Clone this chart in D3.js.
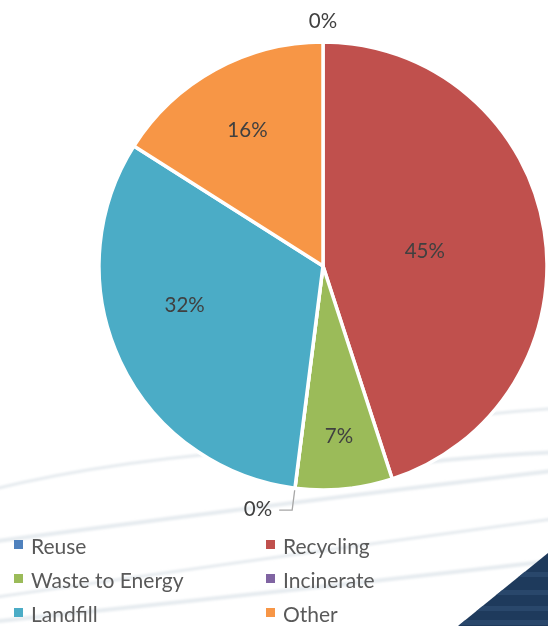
<!DOCTYPE html>
<html lang="en">
<head>
<meta charset="UTF-8">
<title>Waste Pie</title>
<script src="https://d3js.org/d3.v7.min.js"></script>
<style>
    body { margin: 0; background: #fff; }
    svg { display: block; }
    .lbl { font-family: Lato, "Open Sans", sans-serif; font-size: 20.5px; fill: #404040; }
    .legend text { font-family: Lato, "Open Sans", sans-serif; font-size: 21px; fill: #595959; }
</style>
</head>
<body>
<div id="chart"></div>
<script>
// data
const categories = ["Reuse", "Recycling", "Waste to Energy", "Incinerate", "Landfill", "Other"];
const values = [0, 45, 7, 0, 32, 16];
const colors = ["#4f81bd", "#c0504d", "#9bbb59", "#8064a2", "#4bacc6", "#f79646"];

// label distance from centre (fraction of radius) and angle nudge (deg), mimics Excel "best fit"
const labelFrac = { "Recycling": 0.46, "Waste to Energy": 0.76, "Landfill": 0.64, "Other": 0.70 };
const labelNudge = { "Landfill": 10 };

const width = 548, height = 626;
const cx = 323, cy = 266, r = 224;

const svg = d3.select("#chart").append("svg")
    .attr("width", width)
    .attr("height", height);

// faint background swooshes
svg.append("filter").attr("id", "soft")
    .append("feGaussianBlur").attr("stdDeviation", 1.2);
const bg = svg.append("g").attr("fill", "none").attr("stroke", "#dde4e9")
    .attr("stroke-linecap", "round").attr("filter", "url(#soft)");
[
    "M-10,490 Q120,458 290,448",
    "M-10,542 Q260,506 560,470",
    "M-10,598 Q280,556 560,518",
    "M300,478 Q430,458 560,452",
    "M380,428 Q470,414 560,408",
    "M-10,622 Q300,590 560,560"
].forEach((d, i) => {
    bg.append("path").attr("d", d)
        .attr("stroke-width", i % 2 ? 4 : 3)
        .attr("opacity", 0.75);
});

// dark corner triangle
svg.append("clipPath").attr("id", "tri")
    .append("path").attr("d", "M548,553 L458,626 L548,626 Z");
const corner = svg.append("g").attr("clip-path", "url(#tri)");
corner.append("rect").attr("x", 440).attr("y", 540).attr("width", 120).attr("height", 90).attr("fill", "#1e3a5c");
[572, 590, 606, 620].forEach(y => {
    corner.append("rect").attr("x", 440).attr("y", y).attr("width", 120).attr("height", 5)
        .attr("fill", "#2e4d72").attr("opacity", 0.7);
});

// pie
const pie = d3.pie().sort(null).value(d => d.value);
const arcs = pie(categories.map((c, i) => ({ name: c, value: values[i], color: colors[i] })));
const arc = d3.arc().innerRadius(0).outerRadius(r);

const g = svg.append("g").attr("transform", `translate(${cx},${cy})`);

g.selectAll("path.slice")
    .data(arcs)
    .enter()
    .append("path")
    .attr("class", "slice")
    .attr("d", arc)
    .attr("fill", d => d.data.color)
    .attr("stroke", "#fff")
    .attr("stroke-width", 3.5)
    .attr("stroke-linejoin", "round");

// labels for non-zero slices
arcs.filter(d => d.data.value > 0).forEach(d => {
    const a = (d.startAngle + d.endAngle) / 2 + (labelNudge[d.data.name] || 0) * Math.PI / 180;
    const k = (labelFrac[d.data.name] || 0.65) * r;
    g.append("text")
        .attr("class", "lbl")
        .attr("x", Math.sin(a) * k)
        .attr("y", -Math.cos(a) * k)
        .attr("text-anchor", "middle")
        .attr("dominant-baseline", "central")
        .text(d3.format(".0%")(d.data.value / 100));
});

// zero slices: label outside
arcs.filter(d => d.data.value === 0).forEach((d, i) => {
    const a = d.startAngle;
    const txt = d3.format(".0%")(d.data.value / 100);
    if (i === 0) {
        g.append("text")
            .attr("class", "lbl")
            .attr("x", Math.sin(a) * (r + 22))
            .attr("y", -Math.cos(a) * (r + 22))
            .attr("text-anchor", "middle")
            .attr("dominant-baseline", "central")
            .text(txt);
    } else {
        const p0 = [Math.sin(a) * (r + 2), -Math.cos(a) * (r + 2)];
        const p1 = [Math.sin(a) * (r + 22), -Math.cos(a) * (r + 22)];
        const p2 = [p1[0] - 13, p1[1]];
        g.append("path")
            .attr("d", d3.line()([p0, p1, p2]))
            .attr("fill", "none")
            .attr("stroke", "#a6a6a6")
            .attr("stroke-width", 1.3);
        g.append("text")
            .attr("class", "lbl")
            .attr("x", p2[0] - 7)
            .attr("y", p2[1] - 2)
            .attr("text-anchor", "end")
            .attr("dominant-baseline", "central")
            .text(txt);
    }
});

// legend, two columns
const colX = [14, 266], rowY0 = 545, rowH = 34;
const legend = svg.append("g").attr("class", "legend");
categories.forEach((c, i) => {
    const x = colX[i % 2], y = rowY0 + Math.floor(i / 2) * rowH;
    legend.append("rect")
        .attr("x", x).attr("y", y - 5)
        .attr("width", 9).attr("height", 9)
        .attr("fill", colors[i]);
    legend.append("text")
        .attr("x", x + 17).attr("y", y)
        .attr("dominant-baseline", "central")
        .text(c);
});
</script>
</body>
</html>
